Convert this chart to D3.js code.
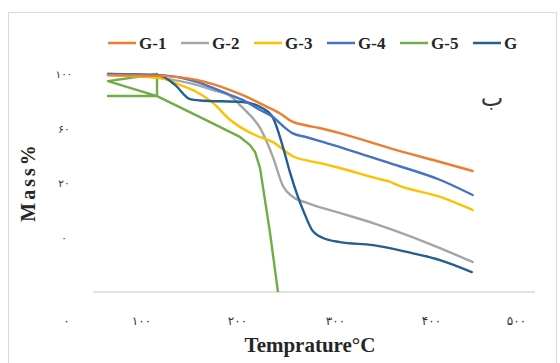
<!DOCTYPE html>
<html><head><meta charset="utf-8">
<script src="https://cdn.jsdelivr.net/npm/d3@7"></script>
<style>body{margin:0;background:#fff}svg{display:block}</style>
</head><body>
<svg id="chart" width="560" height="363"></svg>
<script>
// ---- data ----
const seriesNames = ["G-1","G-2","G-3","G-4","G-5","G-6"];
const tempG1 = [56,120,158,175,193,210,228.6,244,257,270,285,305,357,411,449];
const massG1 = [99.6,99.3,97.8,96.3,94.1,91.6,88.3,85.5,82.4,81.2,80.1,78.3,72.8,67.7,64.4];
const tempG2 = [56,120,158,175,193,203,210,223.5,236.7,246.9,257,271.4,305,339.6,375,410.6,449];
const massG2 = [99.6,98.5,96.0,94.1,91.9,88.6,86.1,80.2,69.5,58.9,54.9,52.7,49.0,45.3,40.9,36.1,31.0];
const tempG3 = [56,120,140.6,158,175,193,203,218.4,236.7,257,285,305,350,357,364.6,411,449];
const massG3 = [99.6,98.5,96.0,93.4,89.4,83.1,80.6,77.6,75.0,69.8,67.3,65.5,61.1,60.5,59.3,54.9,50.1];
const tempG4 = [56,120,158,175,193,210,223.5,236.7,246.9,257,270,284.7,305,357,411,449];
const massG4 = [100,99.6,97.1,94.9,92.3,89.7,86.8,84.2,80.9,78.2,76.9,75.4,73.2,67.3,61.1,55.6];
const tempG5 = [56,116.7,116.7,56,116.7,161.5,203,213.3,218.4,223.5,233.7,241.8,242.9];
const massG5 = [91.9,91.9,100,97.4,91.9,84.2,76.9,73.9,71.4,65.5,41.7,20,17];
const tempG6 = [56,120,135.4,151,161.5,206,225.5,235.7,246.9,254,262.2,269.4,276.5,287.8,305,339.6,375,410.6,448];
const massG6 = [100,99.3,96.0,90.8,90.3,89.7,87.5,84.6,73.2,64.0,54.9,48.3,42.8,39.8,38.3,37.2,34.7,31.7,27.3];
const xTickValues = [0,100,200,300,400,500];
const xTickLabels = ["۰","۱۰۰","۲۰۰","۳۰۰","۴۰۰","۵۰۰"];
const yTickValues = [100,80,60,40];
const yTickLabels = ["۱۰۰","۶۰","۲۰","۰"];
const colors = ["#ED7D31","#A5A5A5","#FFC000","#4472C4","#70AD47","#255E91"];

// ---- layout ----
const plotLeft = 93, plotRight = 535, plotTop = 50, plotBottom = 292;
const xTickPx = [66,141,237,335,431,516];
const svg = d3.select("#chart");

svg.append("rect").attr("x",8.5).attr("y",12.5).attr("width",548).attr("height",365)
  .attr("fill","#fff").attr("stroke","#d9d9d9").attr("stroke-width",1);

const x = d3.scaleLinear().domain(xTickValues).range(xTickPx);
const y = d3.scaleLinear().domain([20,100]).range([plotBottom,74]);

svg.append("line").attr("x1",plotLeft).attr("x2",plotRight).attr("y1",plotBottom).attr("y2",plotBottom)
  .attr("stroke","#d9d9d9").attr("stroke-width",1.5);

const gx = svg.append("g").attr("transform",`translate(0,${plotBottom})`)
  .call(d3.axisBottom(x).tickValues(xTickValues).tickFormat((d,i)=>xTickLabels[i]).tickSize(0));
gx.select(".domain").remove();
gx.selectAll("text").attr("y",29).attr("dy","0.35em")
  .style("font-family","DejaVu Sans").style("font-size","12px").style("letter-spacing","1px").attr("fill","#333");

const gy = svg.append("g").attr("transform",`translate(70,0)`)
  .call(d3.axisLeft(y).tickValues(yTickValues).tickFormat((d,i)=>yTickLabels[i]).tickSize(0));
gy.select(".domain").remove();
gy.selectAll("text").attr("x",-6).attr("dy","0.35em").attr("text-anchor","middle")
  .style("font-family","DejaVu Sans").style("font-size","10.5px").attr("fill","#333");

svg.append("clipPath").attr("id","plotclip").append("rect")
  .attr("x",plotLeft).attr("y",plotTop).attr("width",plotRight-plotLeft).attr("height",plotBottom-plotTop);
svg.append("clipPath").attr("id","legclip").append("rect")
  .attr("x",0).attr("y",0).attr("width",517).attr("height",80);

const temps = [tempG1,tempG2,tempG3,tempG4,tempG5,tempG6];
const masses = [massG1,massG2,massG3,massG4,massG5,massG6];
const line = d3.line().x(d=>x(d[0])).y(d=>y(d[1])).curve(d3.curveMonotoneX);
const lineLin = d3.line().x(d=>x(d[0])).y(d=>y(d[1]));
const gLines = svg.append("g").attr("clip-path","url(#plotclip)");
const order = [4,1,2,5,3,0];
order.forEach(i=>{
  const pts = temps[i].map((t,j)=>[t,masses[i][j]]);
  gLines.append("path").attr("d", i===4 ? lineLin(pts) : line(pts))
    .attr("fill","none").attr("stroke",colors[i]).attr("stroke-width",2.4)
    .attr("stroke-linejoin","round").attr("stroke-linecap","round");
});

const leg = svg.append("g").attr("clip-path","url(#legclip)");
seriesNames.forEach((n,i)=>{
  const lx = 108 + i*73;
  leg.append("line").attr("x1",lx).attr("x2",lx+28).attr("y1",43).attr("y2",43)
    .attr("stroke",colors[i]).attr("stroke-width",2.5);
  leg.append("text").attr("x",lx+31).attr("y",49).text(n)
    .style("font-family","'Liberation Serif', 'Times New Roman', serif").style("font-weight","bold").style("font-size","17px").attr("fill","#262626");
});

svg.append("text").attr("x",310).attr("y",352).attr("text-anchor","middle").text("Temprature°C")
  .style("font-family","'Liberation Serif', serif").style("font-weight","bold").style("font-size","21px").attr("fill","#262626");
svg.append("text").attr("transform","translate(35,182) rotate(-90)").attr("text-anchor","middle").text("Mass%")
  .style("font-family","'Liberation Serif', serif").style("font-weight","bold").style("font-size","20px")
  .style("letter-spacing","3px").attr("fill","#262626");
svg.append("text").attr("x",492).attr("y",106).attr("text-anchor","middle").text("ب")
  .style("font-family","DejaVu Sans").style("font-size","24px").attr("fill","#333");
</script>
</body></html>
